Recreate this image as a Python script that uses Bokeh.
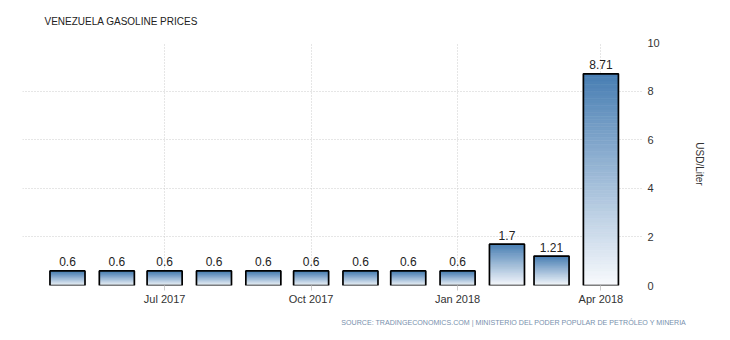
import datetime as dt
from bokeh.plotting import figure
from bokeh.models import Title, FixedTicker, DatetimeTickFormatter, Range1d
from bokeh.embed import file_html
from bokeh.resources import INLINE
from bokeh.core.properties import value

# ---- data ----
months = ["2017-05-01", "2017-06-01", "2017-07-01", "2017-08-01", "2017-09-01",
          "2017-10-01", "2017-11-01", "2017-12-01", "2018-01-01", "2018-02-01",
          "2018-03-01", "2018-04-01"]
prices = [0.6, 0.6, 0.6, 0.6, 0.6, 0.6, 0.6, 0.6, 0.6, 1.7, 1.21, 8.71]
price_labels = ["0.6", "0.6", "0.6", "0.6", "0.6", "0.6", "0.6", "0.6", "0.6", "1.7", "1.21", "8.71"]
x_tick_dates = ["2017-07-01", "2017-10-01", "2018-01-01", "2018-04-01"]
y_ticks = [0, 2, 4, 6, 8, 10]
title_text = "VENEZUELA GASOLINE PRICES"
source_text = "SOURCE: TRADINGECONOMICS.COM | MINISTERIO DEL PODER POPULAR DE PETRÓLEO Y MINERIA"
unit_text = "USD/Liter"

FONT = "Liberation Sans"
EPOCH = dt.datetime(1970, 1, 1)


def to_dt(s):
    return dt.datetime.strptime(s, "%Y-%m-%d")


def to_ms(s):
    return (to_dt(s) - EPOCH).total_seconds() * 1000.0


DAY_MS = 86400000.0
x_dates = [to_dt(m) for m in months]
bar_width = 22 * DAY_MS

p = figure(width=730, height=340, x_axis_type="datetime", y_axis_location="right",
           x_range=Range1d(to_ms("2017-04-02") + 18 * 3600000, to_ms("2018-04-27") + 18 * 3600000),
           y_range=Range1d(0, 10),
           output_backend="svg", toolbar_location=None,
           min_border_left=22, min_border_right=87, min_border_top=42, min_border_bottom=55)
p.outline_line_color = None
p.background_fill_color = "white"
p.border_fill_color = "white"

# gradient bars: slices per bar
N = 60
top_rgb = (0x48, 0x7e, 0xb3)
bot_rgb = (0xf8, 0xfa, 0xfd)
gx, gb, gt, gc = [], [], [], []
for xd, v in zip(x_dates, prices):
    for k in range(N):
        f = (k + 0.5) / N
        r = int(round(bot_rgb[0] + (top_rgb[0] - bot_rgb[0]) * f))
        g = int(round(bot_rgb[1] + (top_rgb[1] - bot_rgb[1]) * f))
        b = int(round(bot_rgb[2] + (top_rgb[2] - bot_rgb[2]) * f))
        gx.append(xd)
        gb.append(v * k / N)
        gt.append(v * (k + 1) / N)
        gc.append("#%02x%02x%02x" % (r, g, b))

p.vbar(x=gx, width=bar_width, bottom=gb, top=gt, fill_color=gc, line_color=gc, line_width=0.6)
p.vbar(x=x_dates, width=bar_width, bottom=0, top=prices, fill_color=None,
       line_color="black", line_width=1.7)

p.text(x=x_dates, y=prices, text=price_labels, text_align="center", text_baseline="alphabetic",
       y_offset=-9, text_font_size="12px", text_font=value(FONT), text_color="#222222")

# axes
xt = FixedTicker(ticks=[to_ms(d) for d in x_tick_dates])
p.xaxis.ticker = xt
p.xgrid.ticker = xt
p.xaxis.formatter = DatetimeTickFormatter(days="%b %Y", months="%b %Y", years="%b %Y")
p.xaxis.axis_line_color = None
p.xaxis.major_tick_line_color = "#cccccc"
p.xaxis.major_tick_in = 0
p.xaxis.major_tick_out = 5
p.xaxis.minor_tick_line_color = None
p.xaxis.major_label_text_font_size = "11px"
p.xaxis.major_label_text_font = FONT
p.xaxis.major_label_text_color = "#333333"
p.xaxis.major_label_standoff = 2

yt = FixedTicker(ticks=y_ticks)
p.yaxis.ticker = yt
p.ygrid.ticker = yt
p.yaxis.axis_line_color = None
p.yaxis.major_tick_line_color = None
p.yaxis.minor_tick_line_color = None
p.yaxis.major_tick_out = 0
p.yaxis.major_tick_in = 0
p.yaxis.major_label_standoff = 4
p.yaxis.major_label_text_font_size = "11px"
p.yaxis.major_label_text_font = FONT
p.yaxis.major_label_text_color = "#333333"
p.yaxis.axis_label = unit_text
p.yaxis.axis_label_text_font_size = "10px"
p.yaxis.axis_label_text_font = FONT
p.yaxis.axis_label_text_font_style = "normal"
p.yaxis.axis_label_text_color = "#333333"
p.yaxis.axis_label_standoff = 31

for gr in (p.xgrid, p.ygrid):
    gr.grid_line_color = "#cccccc"
    gr.grid_line_dash = "1 2"
    gr.grid_line_width = 1

p.title = Title(text=title_text, align="left", offset=22, text_font=FONT,
                text_font_size="10px", text_font_style="normal", text_color="#222222",
                standoff=27, vertical_align="top")
p.add_layout(Title(text=source_text, align="right", offset=-43, text_font=FONT,
                   text_font_size="7.1px", text_font_style="normal", text_color="#7890ad",
                   standoff=19), "below")

open("out.html", "w").write(file_html(p, INLINE))
